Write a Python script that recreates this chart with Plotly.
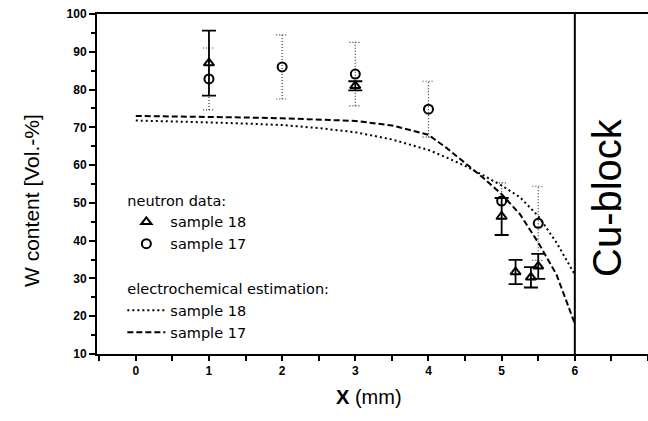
import plotly.graph_objects as go

# ---- data ----
# neutron data, sample 18 (triangles, solid error bars)
x_n18 = [1.0, 3.0, 5.0, 5.19, 5.40, 5.50]
y_n18 = [87.0, 81.0, 46.4, 31.7, 30.3, 33.2]
e_n18 = [8.6, 1.2, 4.9, 3.2, 2.7, 3.3]

# neutron data, sample 17 (circles, dotted error bars)
x_n17 = [1.0, 2.0, 3.0, 4.0, 5.0, 5.5]
y_n17 = [82.8, 86.0, 84.1, 74.8, 50.5, 44.6]
e_n17 = [8.2, 8.5, 8.4, 7.4, 4.8, 9.8]

# electrochemical estimation
x_est = [0, 0.5, 1, 1.5, 2, 2.5, 3, 3.5, 4, 4.25, 4.5, 4.75, 5, 5.25, 5.5, 5.75, 6]
y_est18 = [71.8, 71.6, 71.3, 71.0, 70.6, 69.8, 68.7, 66.8, 64.0, 62.0, 59.8, 57.3,
           54.6, 51.5, 46.5, 39.5, 31.0]
y_est17 = [73.0, 72.9, 72.8, 72.6, 72.4, 72.1, 71.7, 70.5, 68.0, 64.5, 60.6, 56.6,
           52.3, 47.0, 39.5, 31.0, 18.0]

x_ticks = [0, 1, 2, 3, 4, 5, 6, 7]
y_ticks = [10, 20, 30, 40, 50, 60, 70, 80, 90, 100]

CAP = 0.08  # half width of dotted caps, in x units

# dotted error bars for sample 17 built from the data arrays
ex, ey = [], []
for x, y, e in zip(x_n17, y_n17, e_n17):
    ex += [x, x, None, x - CAP, x + CAP, None, x - CAP, x + CAP, None]
    ey += [y - e, y + e, None, y + e, y + e, None, y - e, y - e, None]

fig = go.Figure()

fig.add_trace(go.Scatter(x=ex, y=ey, mode="lines", showlegend=False,
                         line=dict(color="#333", width=1.2, dash="1px,2px"),
                         hoverinfo="skip"))

fig.add_trace(go.Scatter(
    x=x_n18, y=y_n18, mode="markers", name="sample 18",
    legendgroup="n", legendgrouptitle=dict(text="neutron data:"),
    marker=dict(symbol="triangle-up-open", size=9, color="black",
                line=dict(width=2, color="black")),
    error_y=dict(type="data", array=e_n18, visible=True, thickness=1.8,
                 width=7, color="black")))

fig.add_trace(go.Scatter(
    x=x_n17, y=y_n17, mode="markers", name="sample 17", legendgroup="n",
    marker=dict(symbol="circle-open", size=9, color="black",
                line=dict(width=2, color="black"))))

fig.add_trace(go.Scatter(
    x=x_est, y=y_est18, mode="lines", name="sample 18",
    legendgroup="e", legendgrouptitle=dict(text="electrochemical estimation:"),
    line=dict(color="black", width=2, dash="2px,3px")))

fig.add_trace(go.Scatter(
    x=x_est, y=y_est17, mode="lines", name="sample 17", legendgroup="e",
    line=dict(color="black", width=2, dash="6px,3px")))

# Cu-block boundary
fig.add_shape(type="line", xref="x", yref="paper", x0=6, x1=6, y0=0, y1=1,
              line=dict(color="black", width=2))

tickfont = dict(family="Liberation Sans", size=12, color="black", weight="bold")

fig.update_layout(
    width=648, height=421,
    margin=dict(l=97, r=0, t=14, b=67, autoexpand=False),
    paper_bgcolor="white", plot_bgcolor="white",
    font=dict(family="Liberation Sans", color="black"),
    xaxis=dict(range=[-0.53, 7.0], tickmode="array", tickvals=x_ticks,
               ticktext=[str(v) for v in x_ticks], automargin=False,
               ticks="outside", ticklen=5, tickwidth=1.5, tickcolor="black",
               showline=True, linecolor="black", linewidth=2, mirror=True,
               showgrid=False, zeroline=False, tickfont=tickfont,
               minor=dict(dtick=0.5, tick0=0, ticks="outside", ticklen=5,
                          tickwidth=1.5, tickcolor="black", showgrid=False)),
    yaxis=dict(range=[10, 100], tickmode="array", tickvals=y_ticks,
               automargin=False,
               ticks="outside", ticklen=6, tickwidth=1.5, tickcolor="black",
               showline=True, linecolor="black", linewidth=2,
               showgrid=False, zeroline=False, tickfont=tickfont,
               minor=dict(dtick=5, tick0=0, ticks="outside", ticklen=4,
                          tickwidth=1.5, tickcolor="black", showgrid=False)),
    showlegend=True,
    legend=dict(x=0.046, y=0.50, xanchor="left", yanchor="top",
                bgcolor="rgba(0,0,0,0)", traceorder="grouped",
                tracegroupgap=23, itemwidth=38,
                font=dict(family="DejaVu Sans", size=14.5, color="black"),
                grouptitlefont=dict(family="DejaVu Sans", size=14.5, color="black")),
    annotations=[
        dict(text="W content [Vol.-%]", xref="paper", yref="paper",
             x=-0.118, y=0.453, xanchor="center", yanchor="middle",
             textangle=-90, showarrow=False,
             font=dict(family="Liberation Sans", size=21, color="black")),
        dict(text="<b>X</b> (mm)", xref="paper", yref="paper",
             x=0.494, y=-0.125, xanchor="center", yanchor="middle",
             showarrow=False,
             font=dict(family="Liberation Sans", size=20, color="black")),
        dict(text="Cu-block", xref="x", yref="y", x=6.44, y=51.3,
             xanchor="center", yanchor="middle", textangle=-90,
             showarrow=False,
             font=dict(family="Liberation Sans", size=40, color="black")),
    ],
)

fig.write_html("out.html", config={"displayModeBar": False},
               post_script="document.body.style.margin='0';document.body.style.overflow='hidden';")
